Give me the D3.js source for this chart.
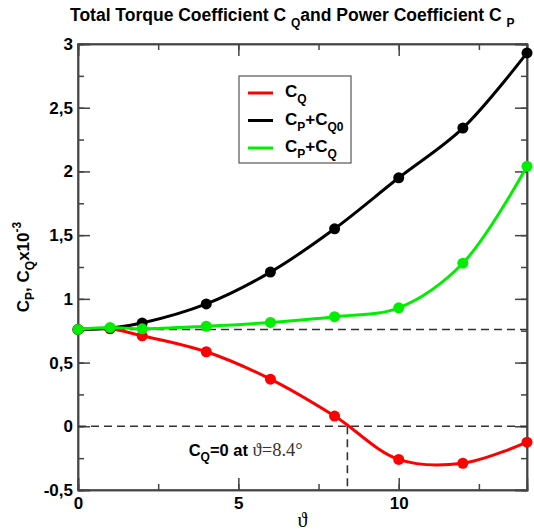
<!DOCTYPE html>
<html lang="en">
<head>
    <meta charset="UTF-8">
    <title>Torque and Power Coefficient</title>
    <script src="https://d3js.org/d3.v7.min.js"></script>
    <style>
        body { margin: 0; background: #fff; }
        svg text { font-family: "Liberation Sans", Arial, sans-serif; font-weight: bold; fill: #000; }
        .curve { fill: none; stroke-width: 3px; }
        .dash { stroke: #333; stroke-width: 1.6px; stroke-dasharray: 8,5; fill: none; }
    </style>
</head>
<body>
<svg width="534" height="532"></svg>
<script>
    // data (coefficients x10^-3)
    var theta = [0, 1, 2, 4, 6, 8, 10, 12, 14];
    var cq = [0.76, 0.765, 0.71, 0.585, 0.37, 0.08, -0.26, -0.29, -0.125];
    var cpCq0 = [0.76, 0.77, 0.81, 0.96, 1.21, 1.55, 1.95, 2.34, 2.93];
    var cpCq = [0.76, 0.775, 0.765, 0.785, 0.815, 0.86, 0.93, 1.28, 2.04];
    var xTicks = [0, 5, 10];
    var yTicks = [-0.5, 0, 0.5, 1, 1.5, 2, 2.5, 3];
    var cq0Level = 0.76, cqZeroAt = 8.4;

    var series = [
        { name: "CQ", values: cq, color: "#ff0000" },
        { name: "CP+CQ0", values: cpCq0, color: "#000000" },
        { name: "CP+CQ", values: cpCq, color: "#00ee00" }
    ];

    var svg = d3.select("svg"),
        margin = { top: 44, right: 7, bottom: 42, left: 78 },
        width = +svg.attr("width") - margin.left - margin.right,
        height = +svg.attr("height") - margin.top - margin.bottom,
        g = svg.append("g").attr("transform", "translate(" + margin.left + "," + margin.top + ")");

    var x = d3.scaleLinear().domain([0, 14]).range([0, width]);
    var y = d3.scaleLinear().domain([-0.5, 3]).range([height, 0]);

    var fmt = function (d) { return String(d).replace(".", ","); };

    // axes, ticks pointing inward
    g.append("g").attr("transform", "translate(0," + height + ")")
        .call(d3.axisBottom(x).tickValues(d3.range(0, 14.01, 2.5)).tickSize(-6).tickFormat(""));
    g.append("g").attr("transform", "translate(0," + height + ")")
        .call(d3.axisBottom(x).tickValues(xTicks).tickSize(-12).tickPadding(7).tickFormat(d3.format("d")));
    g.append("g")
        .call(d3.axisTop(x).tickValues(d3.range(0, 14.01, 2.5)).tickSize(-6).tickFormat(""));
    g.append("g")
        .call(d3.axisTop(x).tickValues(xTicks).tickSize(-12).tickFormat(""));
    g.append("g")
        .call(d3.axisLeft(y).tickValues(d3.range(-0.5, 3.01, 0.25)).tickSize(-6).tickFormat(""));
    g.append("g")
        .call(d3.axisLeft(y).tickValues(yTicks).tickSize(-12).tickPadding(5).tickFormat(fmt));
    g.append("g").attr("transform", "translate(" + width + ",0)")
        .call(d3.axisRight(y).tickValues(d3.range(-0.5, 3.01, 0.25)).tickSize(-6).tickFormat(""));
    g.append("g").attr("transform", "translate(" + width + ",0)")
        .call(d3.axisRight(y).tickValues(yTicks).tickSize(-12).tickFormat(""));
    g.selectAll(".domain, .tick line").attr("stroke", "#444").attr("stroke-width", 1.5);
    g.selectAll(".tick text").style("font-size", "17px");

    // frame
    g.append("rect").attr("width", width).attr("height", height)
        .attr("fill", "none").attr("stroke", "#444").attr("stroke-width", 1.5);

    // reference lines
    g.append("line").attr("class", "dash")
        .attr("x1", 0).attr("x2", width).attr("y1", y(cq0Level)).attr("y2", y(cq0Level));
    g.append("line").attr("class", "dash")
        .attr("x1", 0).attr("x2", width).attr("y1", y(0)).attr("y2", y(0));
    g.append("line").attr("class", "dash")
        .attr("x1", x(cqZeroAt)).attr("x2", x(cqZeroAt)).attr("y1", y(0)).attr("y2", height);

    var line = d3.line()
        .x(function (d, i) { return x(theta[i]); })
        .y(function (d) { return y(d); })
        .curve(d3.curveCatmullRom.alpha(0.5));

    series.forEach(function (s) {
        g.append("path").datum(s.values).attr("class", "curve")
            .attr("stroke", s.color).attr("d", line);
        g.append("g").selectAll("circle").data(s.values).enter().append("circle")
            .attr("cx", function (d, i) { return x(theta[i]); })
            .attr("cy", function (d) { return y(d); })
            .attr("r", 5.5).attr("fill", s.color);
    });

    // annotation
    var ann = g.append("text").attr("x", x(3.45)).attr("y", y(-0.235)).style("font-size", "16.5px");
    ann.append("tspan").text("C");
    ann.append("tspan").attr("dy", 5).style("font-size", "12px").text("Q");
    ann.append("tspan").attr("dy", -5).text("=0 at ");
    ann.append("tspan").style("font-family", "'Liberation Serif', 'Times New Roman', serif")
        .style("font-weight", "normal").style("font-size", "18.5px").attr("fill", "#333")
        .text("\u03D1=8.4\u00B0");

    // legend
    var leg = svg.append("g").attr("transform", "translate(239,76)");
    leg.append("rect").attr("width", 112).attr("height", 87)
        .attr("fill", "#fff").attr("stroke", "#555").attr("stroke-width", 1.2);
    var labels = [["C", "Q", ""], ["C", "P", "+C", "Q0"], ["C", "P", "+C", "Q"]];
    series.forEach(function (s, i) {
        var yy = 17 + i * 27.5;
        leg.append("line").attr("x1", 9).attr("x2", 34).attr("y1", yy).attr("y2", yy)
            .attr("stroke", s.color).attr("stroke-width", 3);
        var t = leg.append("text").attr("x", 46).attr("y", yy + 4).style("font-size", "17px");
        var parts = labels[i];
        for (var k = 0; k < parts.length; k++) {
            if (!parts[k]) continue;
            if (k % 2 === 1) {
                t.append("tspan").attr("dy", 6).style("font-size", "12px").text(parts[k]);
            } else {
                t.append("tspan").attr("dy", k > 0 ? -6 : 0).text(parts[k]);
            }
        }
    });

    // title
    var title = svg.append("text").attr("x", 70).attr("y", 21).style("font-size", "17.5px");
    title.append("tspan").text("Total Torque Coefficient C ");
    title.append("tspan").attr("dy", 6).style("font-size", "12px").text("Q");
    title.append("tspan").attr("dy", -6).text("and Power Coefficient C ");
    title.append("tspan").attr("dy", 6).style("font-size", "12px").text("P");

    // y axis label
    var yl = svg.append("text").attr("transform", "translate(29," + (margin.top + y(1.25)) + ") rotate(-90)")
        .attr("text-anchor", "middle").style("font-size", "17px");
    yl.append("tspan").text("C");
    yl.append("tspan").attr("dy", 5).style("font-size", "12px").text("P");
    yl.append("tspan").attr("dy", -5).text(", C");
    yl.append("tspan").attr("dy", 5).style("font-size", "12px").text("Q");
    yl.append("tspan").attr("dy", -5).text("x10");
    yl.append("tspan").attr("dy", -8).style("font-size", "12px").text("-3");

    // x axis label
    svg.append("text").attr("x", margin.left + width / 2).attr("y", 527)
        .attr("text-anchor", "middle")
        .style("font-family", "'Liberation Serif', 'Times New Roman', serif")
        .style("font-weight", "normal").style("font-size", "20px").text("\u03D1");
</script>
</body>
</html>
